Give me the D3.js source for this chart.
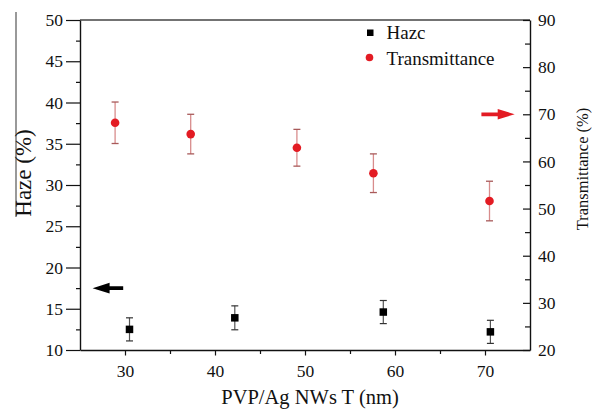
<!DOCTYPE html>
<html>
<head>
<meta charset="utf-8">
<script src="https://cdn.jsdelivr.net/npm/d3@7"></script>
<style>
  body { margin: 0; background: #fff; }
  svg { display: block; }
</style>
</head>
<body>
<svg id="chart" width="596" height="413"></svg>
<script>
// ---- data ----
const hazeX = [30.5, 42.2, 58.7, 70.6];
const hazeY = [12.5, 13.9, 14.6, 12.2];
const hazeErr = [1.4, 1.45, 1.4, 1.4];

const transX = [28.9, 37.3, 49.1, 57.6, 70.5];
const transY = [68.2, 65.8, 62.9, 57.5, 51.6];
const transErr = [4.4, 4.2, 3.9, 4.1, 4.2];

const xTicks = [30, 40, 50, 60, 70];
const xMinor = [35, 45, 55, 65];
const leftTicks = [10, 15, 20, 25, 30, 35, 40, 45, 50];
const leftMinor = [12.5, 17.5, 22.5, 27.5, 32.5, 37.5, 42.5, 47.5];
const rightTicks = [20, 30, 40, 50, 60, 70, 80, 90];
const rightMinor = [25, 35, 45, 55, 65, 75, 85];

const legendLabels = ["Hazc", "Transmittance"];
const xTitle = "PVP/Ag NWs T (nm)";
const leftTitle = "Haze (%)";
const rightTitle = "Transmittance (%)";

// annotation arrows: [xFrom, xTo, value]
const hazeArrow = [29.8, 26.4, 17.5];
const transArrow = [69.6, 73.3, 70];

// ---- scales ----
const FONT = "Liberation Serif, DejaVu Serif, serif";
const svg = d3.select("#chart");
const x = d3.scaleLinear().domain([25, 75]).range([80, 530]);
const yL = d3.scaleLinear().domain([10, 50]).range([350, 20]);
const yR = d3.scaleLinear().domain([20, 90]).range([350, 20]);

const red = "#e31b23";

// artifact line at far left
svg.append("line").attr("x1", 16).attr("x2", 16).attr("y1", 12).attr("y2", 217)
  .attr("stroke", "#777").attr("stroke-width", 1.5);

// top border
svg.append("line").attr("x1", x(25)).attr("x2", x(75)).attr("y1", yL(50)).attr("y2", yL(50))
  .attr("stroke", "#444").attr("stroke-width", 1.3);

function styleAxis(g) {
  g.attr("font-family", FONT).attr("font-size", 17.5);
  g.selectAll(".domain").attr("stroke", "#111").attr("stroke-width", 1.4);
  g.selectAll(".tick line").attr("stroke", "#111").attr("stroke-width", 1.2);
  g.selectAll("text").attr("font-family", FONT)
    .attr("font-size", 17.5).attr("fill", "#111");
}

// bottom axis
const gx = svg.append("g").attr("transform", `translate(0,${yL(10)})`)
  .call(d3.axisBottom(x).tickValues(xTicks).tickSize(5.5).tickSizeOuter(0).tickPadding(9));
styleAxis(gx);
svg.append("g").attr("transform", `translate(0,${yL(10)})`)
  .call(d3.axisBottom(x).tickValues(xMinor).tickSize(4).tickFormat(""))
  .call(g => { g.select(".domain").remove(); styleAxis(g); });

// left axis
const gl = svg.append("g").attr("transform", `translate(${x(25)},0)`)
  .call(d3.axisLeft(yL).tickValues(leftTicks).tickSize(14).tickSizeOuter(0).tickPadding(3));
styleAxis(gl);
svg.append("g").attr("transform", `translate(${x(25)},0)`)
  .call(d3.axisLeft(yL).tickValues(leftMinor).tickSize(4).tickFormat(""))
  .call(g => { g.select(".domain").remove(); styleAxis(g); });

// right axis (ticks inward)
const gr = svg.append("g").attr("transform", `translate(${x(75)},0)`)
  .call(d3.axisRight(yR).tickValues(rightTicks).tickSize(-7).tickSizeOuter(0).tickPadding(8));
styleAxis(gr);
svg.append("g").attr("transform", `translate(${x(75)},0)`)
  .call(d3.axisRight(yR).tickValues(rightMinor).tickSize(-5).tickFormat(""))
  .call(g => { g.select(".domain").remove(); styleAxis(g); });

function txt(sel, size) {
  return sel.attr("font-family", FONT).attr("font-size", size).attr("fill", "#111");
}

// titles
txt(svg.append("text").attr("x", 310).attr("y", 404).attr("text-anchor", "middle"), 20.5).text(xTitle);
txt(svg.append("text").attr("transform", "translate(31,173) rotate(-90)")
  .attr("text-anchor", "middle"), 23).text(leftTitle);
txt(svg.append("text").attr("transform", "translate(588,169) rotate(-90)")
  .attr("text-anchor", "middle"), 16.5).text(rightTitle);

// error bars
const tData = transX.map((d, i) => ({ x: d, y: transY[i], e: transErr[i] }));
const hData = hazeX.map((d, i) => ({ x: d, y: hazeY[i], e: hazeErr[i] }));
const cap = 3.5;

function errBars(data, y, lineColor, capColor, w) {
  const g = svg.append("g");
  g.selectAll("line.v").data(data).join("line").attr("class", "v")
    .attr("x1", d => x(d.x)).attr("x2", d => x(d.x))
    .attr("y1", d => y(d.y + d.e)).attr("y2", d => y(d.y - d.e))
    .attr("stroke", lineColor).attr("stroke-width", w);
  g.selectAll("line.t").data(data).join("line").attr("class", "t")
    .attr("x1", d => x(d.x) - cap).attr("x2", d => x(d.x) + cap)
    .attr("y1", d => y(d.y + d.e)).attr("y2", d => y(d.y + d.e))
    .attr("stroke", capColor).attr("stroke-width", w);
  g.selectAll("line.b").data(data).join("line").attr("class", "b")
    .attr("x1", d => x(d.x) - cap).attr("x2", d => x(d.x) + cap)
    .attr("y1", d => y(d.y - d.e)).attr("y2", d => y(d.y - d.e))
    .attr("stroke", capColor).attr("stroke-width", w);
}
errBars(tData, yR, "#d88c8c", "#a85a5a", 1.3);
errBars(hData, yL, "#555", "#333", 1.2);

// markers
svg.append("g").selectAll("circle").data(tData).join("circle")
  .attr("cx", d => x(d.x)).attr("cy", d => yR(d.y)).attr("r", 4.3).attr("fill", red);
const sq = 7.5;
svg.append("g").selectAll("rect").data(hData).join("rect")
  .attr("x", d => x(d.x) - sq / 2).attr("y", d => yL(d.y) - sq / 2)
  .attr("width", sq).attr("height", sq).attr("fill", "#000");

// arrows
function arrow(x0, x1, y, color) {
  const dir = Math.sign(x1 - x0);
  const headLen = 17, headHalf = 5.3, shaft = 3.8;
  const hb = x1 - dir * headLen;
  svg.append("path")
    .attr("d", `M${x0},${y - shaft / 2} L${hb},${y - shaft / 2} L${hb},${y - headHalf} L${x1},${y} L${hb},${y + headHalf} L${hb},${y + shaft / 2} L${x0},${y + shaft / 2} Z`)
    .attr("fill", color);
}
arrow(x(hazeArrow[0]), x(hazeArrow[1]), yL(hazeArrow[2]), "#000");
arrow(x(transArrow[0]), x(transArrow[1]), yR(transArrow[2]), red);

// legend
const lg = svg.append("g");
lg.append("rect").attr("x", 367).attr("y", 29.5).attr("width", 6.5).attr("height", 6.5).attr("fill", "#000");
txt(lg.append("text").attr("x", 386.5).attr("y", 39), 19).text(legendLabels[0]);
lg.append("circle").attr("cx", 369.5).attr("cy", 57.5).attr("r", 3.8).attr("fill", red);
txt(lg.append("text").attr("x", 386.5).attr("y", 64.5), 19).text(legendLabels[1]);
</script>
</body>
</html>
